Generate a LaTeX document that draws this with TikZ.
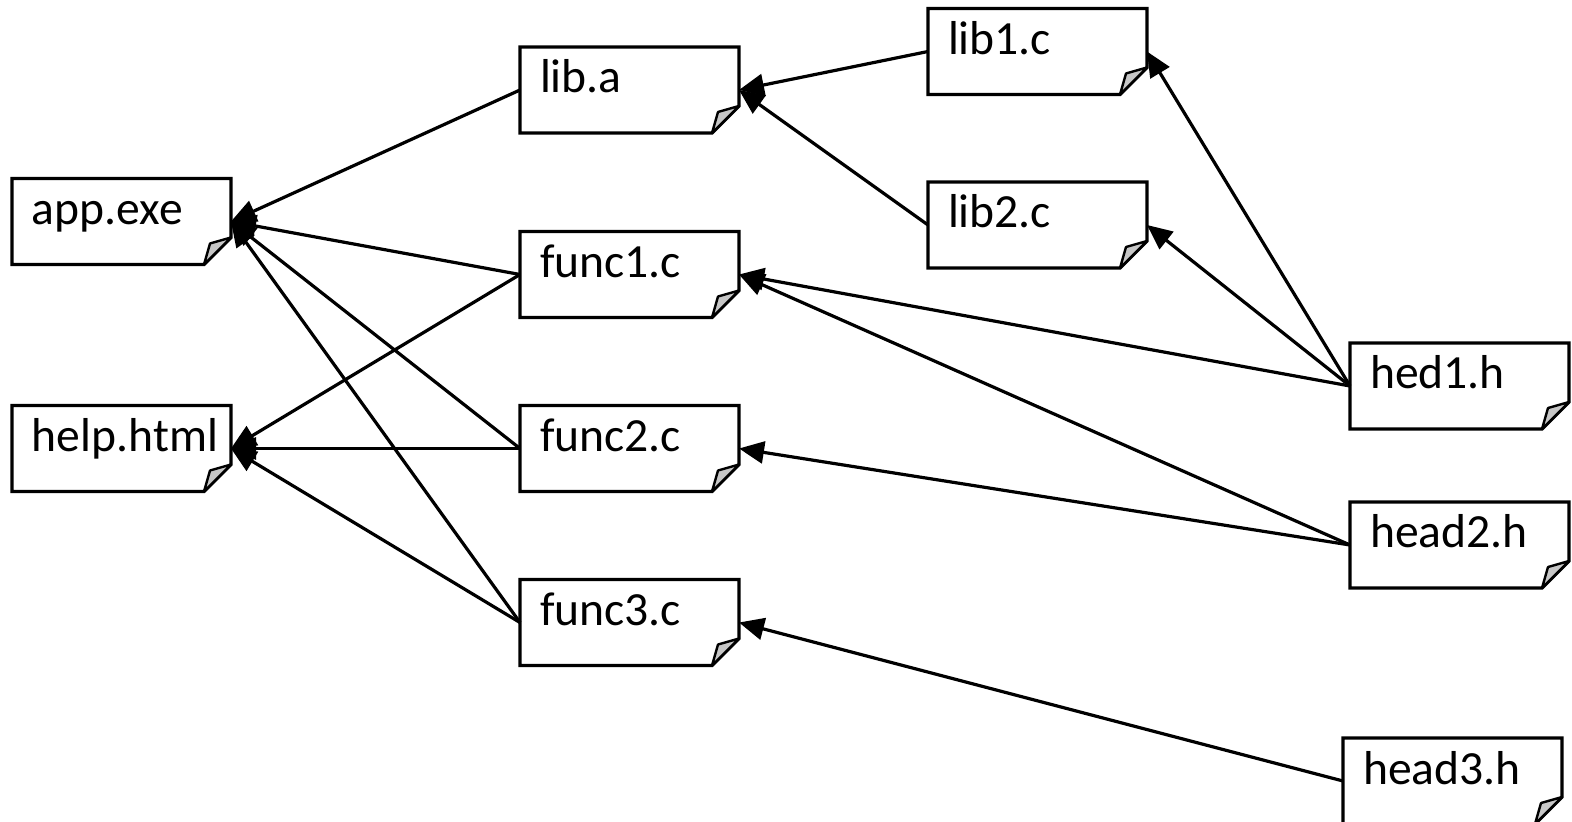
\documentclass[tikz,border=0pt]{standalone}
\usepackage{fontspec}
\setmainfont{Carlito}
\usetikzlibrary{arrows.meta}

\tikzset{
  doc/.style={shape=rectangle, inner sep=0pt, outer sep=0pt,
    minimum width=109.5pt, minimum height=43pt,
    text width=89.5pt, align=left,
    text height=23pt, text depth=20pt,
    font=\fontsize{23.8}{28}\selectfont},
  docline/.style={draw=black, line width=1.6pt, line join=miter},
  fold/.style={draw=black, fill=black!22, line width=1.2pt, line join=round},
  dep/.style={draw=black, line width=1.6pt,
    -{Triangle[length=12.5pt,width=11pt]}}
}

% outline of a document with a dog-eared lower right corner
\newcommand\docframe[1]{%
  \draw[docline] (#1.north west) -- (#1.north east)
    -- ([yshift=13.5pt]#1.south east) -- ([xshift=-13.5pt]#1.south east)
    -- (#1.south west) -- cycle;
  \draw[fold] ([yshift=13.5pt]#1.south east)
    -- ([shift={(-10.5pt,10.5pt)}]#1.south east)
    -- ([xshift=-13.5pt]#1.south east) -- cycle;
}

\begin{document}
\begin{tikzpicture}[x=0.5pt, y=-0.5pt]
\useasboundingbox (0,0) rectangle (1572,822);

% targets
\node[doc] (app)   at (121.5,221.5) {app.exe};
\node[doc] (help)  at (121.5,448.5) {help.html};
% intermediate
\node[doc] (liba)  at (629.5,90)    {lib.a};
\node[doc] (func1) at (629.5,274.5) {func1.c};
\node[doc] (func2) at (629.5,448.5) {func2.c};
\node[doc] (func3) at (629.5,622.5) {func3.c};
\node[doc] (lib1)  at (1037.5,51.5) {lib1.c};
\node[doc] (lib2)  at (1037.5,225)  {lib2.c};
% headers
\node[doc] (hed1)  at (1459.5,386)  {hed1.h};
\node[doc] (head2) at (1459.5,545)  {head2.h};
\node[doc] (head3) at (1452.5,781)  {head3.h};

\foreach \n in {app,help,liba,func1,func2,func3,lib1,lib2,hed1,head2,head3}
  {\docframe{\n}}

% dependencies
\draw[dep] (liba.west)  -- (app.east);
\draw[dep] (func1.west) -- (app.east);
\draw[dep] (func2.west) -- (app.east);
\draw[dep] (func3.west) -- (app.east);
\draw[dep] (func1.west) -- (help.east);
\draw[dep] (func2.west) -- (help.east);
\draw[dep] (func3.west) -- (help.east);
\draw[dep] (lib1.west)  -- (liba.east);
\draw[dep] (lib2.west)  -- (liba.east);
\draw[dep] (hed1.west)  -- (lib1.east);
\draw[dep] (hed1.west)  -- (lib2.east);
\draw[dep] (hed1.west)  -- (func1.east);
\draw[dep] (head2.west) -- (func1.east);
\draw[dep] (head2.west) -- (func2.east);
\draw[dep] (head3.west) -- (func3.east);
\end{tikzpicture}
\end{document}
